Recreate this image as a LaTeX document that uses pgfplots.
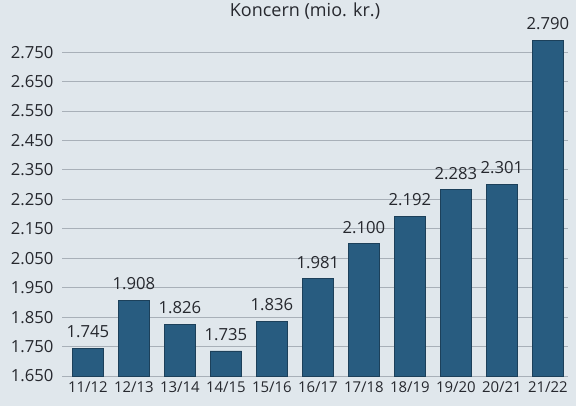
\documentclass[border=0pt]{standalone}
\usepackage{pgfplots}
\pgfplotsset{compat=1.18}
\usepackage{fontspec}
\setmainfont{Open Sans}
\definecolor{bgc}{RGB}{224,231,236}
\definecolor{barc}{RGB}{40,92,128}
\definecolor{txt}{RGB}{38,40,46}
\definecolor{gridc}{RGB}{168,176,184}
\begin{document}
\begin{tikzpicture}
\clip (0,0) rectangle (432pt,304.5pt);
\fill[bgc] (0,0) rectangle (432pt,304.5pt);
\begin{axis}[
  at={(46.6pt,22.5pt)}, anchor=south west,
  scale only axis, width=379.5pt, height=265pt,
  xmin=-0.56, xmax=10.44, ymin=1650, ymax=2850,
  axis line style={draw=none},
  ytick={1650,1750,...,2750},
  xtick={0,...,10},
  xticklabels={11/12,12/13,13/14,14/15,15/16,16/17,17/18,18/19,19/20,20/21,21/22},
  major tick length=0pt,
  ymajorgrids, grid style={gridc, line width=0.6pt},
  tick label style={text=txt},
  yticklabel style={font=\fontsize{12.5}{14}\selectfont, anchor=east, xshift=-3pt},
  xticklabel style={font=\fontsize{11.2}{13}\selectfont, yshift=-1pt, inner xsep=0pt},
  /pgf/number format/.cd, 1000 sep={.}, assume math mode=true,
  /pgfplots/.cd,
  clip=false,
  ybar, bar width=23.5pt, bar shift=0pt,
  nodes near coords,
  nodes near coords style={font=\fontsize{12.5}{14}\selectfont, text=txt, yshift=4pt, inner xsep=0pt},
]
\addplot[fill=barc, draw=barc!70!black, line width=0.6pt] coordinates {
(0,1745) (1,1908) (2,1826) (3,1735) (4,1836) (5,1981) (6,2100) (7,2192) (8,2283) (9,2301) (10,2790)};
\node[font=\fontsize{13.5}{15}\selectfont, text=txt, anchor=north, inner ysep=1pt] at (rel axis cs:0.48,1) [yshift=16.3pt] {Koncern (mio. kr.)};
\end{axis}
\end{tikzpicture}
\end{document}
